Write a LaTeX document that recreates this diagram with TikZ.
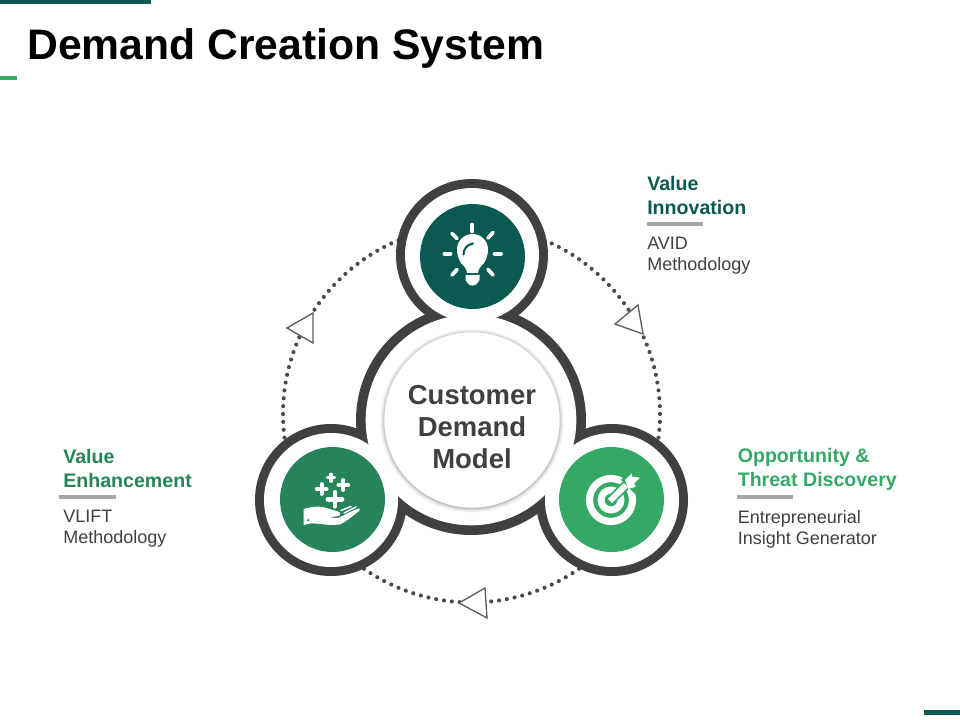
\documentclass[tikz,border=0pt]{standalone}
\usepackage{fontspec}
\setmainfont{Liberation Sans}
\definecolor{teal}{HTML}{0B5A52}
\definecolor{midgreen}{HTML}{27845A}
\definecolor{ltgreen}{HTML}{34A966}
\definecolor{ringc}{HTML}{404040}
\definecolor{rulec}{HTML}{A6A6A6}
\definecolor{bodyc}{HTML}{404040}
\definecolor{dotc}{HTML}{4A4A4A}
\tikzset{
  darkdisc/.style={circle,fill=ringc,inner sep=0pt,minimum size=#1},
  whitedisc/.style={circle,fill=white,inner sep=0pt,minimum size=#1},
  colordisc/.style={circle,fill=#1,inner sep=0pt,minimum size=78.75pt},
  orbitdot/.style={circle,fill=dotc,draw=none,inner sep=0pt,minimum size=3.1pt},
  tri/.style={draw=ringc!85!white,line width=1pt,fill=white,line join=miter},
  ray/.style={draw=white,line width=2.8pt,line cap=round},
  plusmark/.style={draw=white,line width=#1,line cap=round},
  head/.style={inner sep=0pt,anchor=west,align=left,font=\fontsize{14.7}{18}\selectfont\bfseries},
  sub/.style={inner sep=0pt,anchor=west,align=left,text=bodyc,font=\fontsize{13.5}{16}\selectfont},
  rulebar/.style={draw=rulec,line width=2.3pt}
}
\begin{document}
\begin{tikzpicture}[x=0.75pt,y=-0.75pt]
\useasboundingbox (0,0) rectangle (960,720);
\fill[white] (0,0) rectangle (960,720);
% corner bars
\fill[teal] (0,0) rectangle (151,4.5);
\fill[ltgreen] (0,76) rectangle (17,80.5);
\fill[teal] (924,710) rectangle (960,715);
% title
\node[inner sep=0pt,anchor=base west,font=\fontsize{32}{36}\selectfont\bfseries] (title) at (27,60) {Demand Creation System};
% orbit: ring of dots
\coordinate (orbit) at (471.5,414);
\foreach \a in {0,2.4,...,358}{
  \node[orbitdot] at ([shift={(\a:188.5)}]orbit) {};
}
% triangles
\draw[tri] (638,305) -- (615,324) -- (643,334) -- cycle;
\draw[tri] (459,603) -- (485,588) -- (487,618) -- cycle;
\draw[tri] (287,328) -- (313,313) -- (313,343) -- cycle;
% ring union
\node[darkdisc=114pt] (topd) at (472,255) {};
\node[darkdisc=114pt] (leftd) at (331,500) {};
\node[darkdisc=114pt] (rightd) at (612,500) {};
\node[darkdisc=172.5pt] (midd) at (471,420) {};
\node[whitedisc=100.5pt] (topw) at (472,255) {};
\node[whitedisc=100.5pt] (leftw) at (331,500) {};
\node[whitedisc=100.5pt] (rightw) at (612,500) {};
\node[whitedisc=158pt] (midw) at (471,420) {};
% coloured discs
\node[colordisc=teal] (topc) at (472.5,256.5) {};
\node[colordisc=midgreen] (leftc) at (332.5,499.5) {};
\node[colordisc=ltgreen] (rightc) at (611.5,499.5) {};
% central disc with soft shadow
\foreach \r/\o in {92/.03,91/.04,90/.05,89/.06,88.3/.08}{
  \fill[black,opacity=\o] (472,420.7) circle[radius=\r];
}
\node[whitedisc=131.5pt] (core) at (472,420) {};
\node[inner sep=0pt,align=center,text=ringc,font=\fontsize{20.6}{24}\selectfont\bfseries] (corelabel) at (472,427) {Customer\\Demand\\Model};
% bulb icon
\fill[white] (461,263) .. controls (458.5,259.5) and (457,254) .. (457,249.5)
  arc[start angle=180,end angle=360,radius=15.5]
  .. controls (488,254) and (486.5,259.5) .. (484,263)
  .. controls (480,267) and (478.5,269) .. (478,273) -- (467,273)
  .. controls (466.5,269) and (465,267) .. (461,263) -- cycle;
\fill[white] (465.5,275) -- (479.5,275) -- (479.5,280) -- (477.5,283)
  .. controls (476,286.5) and (469,286.5) .. (467.5,283) -- (465.5,280) -- cycle;
\draw[teal,line width=1.6pt,line cap=round] (463.5,254.5) .. controls (463.5,249) and (467,244.5) .. (473,243.5);
\draw[ray] (472.3,224.5) -- (472.3,231.5);
\draw[ray] (444.5,253.7) -- (450.5,253.7);
\draw[ray] (494.5,253.7) -- (501,253.7);
\draw[ray] (452,233.5) -- (457,238.5);
\draw[ray] (493,232.5) -- (488,238);
\draw[ray] (452,275) -- (457,269.5);
\draw[ray] (493,275) -- (488,269.5);
% hand icon
\foreach \cx/\cy/\h/\w in {331/477.7/3.5/2.4pt,321.7/489/5/2.8pt,343.3/485/5/2.8pt,335/499.3/7/3.6pt}{
  \draw[plusmark=\w] (\cx-\h,\cy) -- (\cx+\h,\cy) (\cx,\cy-\h) -- (\cx,\cy+\h);
}
\fill[white] (303.5,509) .. controls (309,507.5) and (314,506.5) .. (318.5,506.5)
  .. controls (325,507) and (332,510) .. (338,511.5)
  .. controls (341,512.5) and (341,515.5) .. (338,516)
  -- (329,517.5) -- (338,518)
  .. controls (345,515) and (352,510.5) .. (358.5,508.5)
  .. controls (360,508.5) and (360.5,510) .. (359,511)
  .. controls (353,516) and (347,521) .. (340,524.5)
  -- (332,525) .. controls (326,525) and (316,523) .. (310,523.5)
  -- (303.5,525) -- cycle;
\fill[midgreen] (308.3,520.2) circle[radius=1.2];
\draw[white,line width=1.1pt,line cap=round] (341,510.5) -- (351,506.5);
\draw[white,line width=1.1pt,line cap=round] (344,513) -- (356,507);
% target icon
\draw[white,line width=5.4pt] (611,500) circle[radius=21.5];
\draw[white,line width=5.2pt] (611,500) circle[radius=10];
\draw[ltgreen,line width=7pt] (611,500) -- (629,482);
\draw[white,line width=4.4pt] (610,501) -- (629,482);
\fill[ltgreen] (621,480) -- (632,468) -- (646,482) -- (635,494) -- cycle;
\fill[white] (625,480) -- (631.7,473.3) -- (632.3,476.7) -- (640,477.7) -- (634.3,483.3)
  -- (635.7,486.7) -- (628.3,489) -- cycle;
% labels
\node[head,text=teal] (l1) at (647,195.5) {Value\\Innovation};
\coordinate (r1a) at (647,224); \coordinate (r1b) at (703,224);
\draw[rulebar] (r1a) -- (r1b);
\node[sub] (s1) at (647,256) {AVID\\Methodology};
\node[head,text=midgreen] (l2) at (63,468) {Value\\Enhancement};
\coordinate (r2a) at (59,497); \coordinate (r2b) at (116,497);
\draw[rulebar] (r2a) -- (r2b);
\node[sub] (s2) at (63,529) {VLIFT\\Methodology};
\node[head,text=ltgreen] (l3) at (737.5,469.5) {Opportunity \&\\Threat Discovery};
\coordinate (r3a) at (737,497); \coordinate (r3b) at (793,497);
\draw[rulebar] (r3a) -- (r3b);
\node[sub] (s3) at (737.5,529.5) {Entrepreneurial\\Insight Generator};
\end{tikzpicture}
\end{document}
